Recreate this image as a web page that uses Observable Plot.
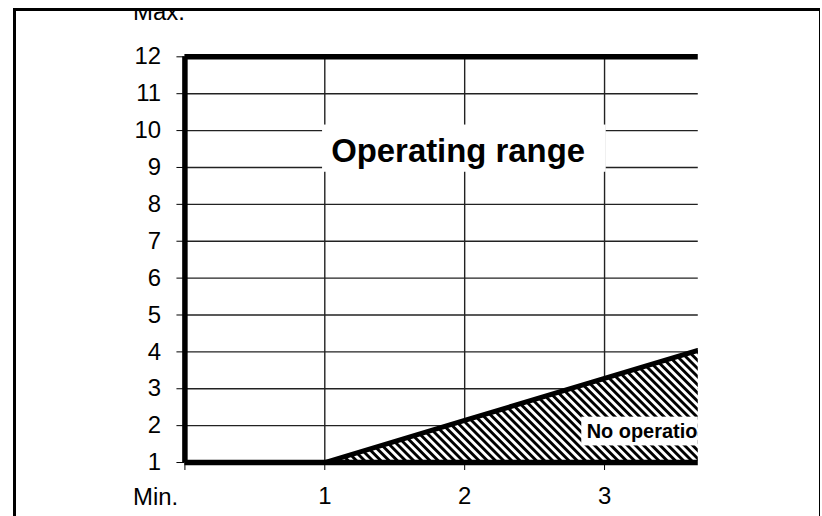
<!DOCTYPE html>
<html><head><meta charset="utf-8">
<script src="https://cdn.jsdelivr.net/npm/d3@7"></script>
<script src="https://cdn.jsdelivr.net/npm/@observablehq/plot@0.6"></script>
<style>
html,body{margin:0;padding:0;background:#fff;}
#frame{position:absolute;left:13px;top:8px;width:807px;height:530px;box-sizing:border-box;border-left:3.4px solid #000;border-top:3.4px solid #000;border-right:1px solid #000;overflow:hidden;}
#chart{position:absolute;left:-16.4px;top:-11.4px;}
</style></head><body>
<div id="frame"><div id="chart"></div></div>
<script>
// ---- data ----
const yTicks = [1,2,3,4,5,6,7,8,9,10,11,12];
const yGrid = [2,3,4,5,6,7,8,9,10,11];
const xTicks = [0,1,2,3];
const xTickLabels = ["", "1", "2", "3"];
const xGrid = [1,2,3];
const xDomain = [0, 3.67];
const yDomain = [1, 12];
const boundaryX = [1, 2, 3, 4];
const boundaryY = [1, 2.14, 3.28, 4.42];
const boundary = boundaryX.map((x, i) => ({x, y: boundaryY[i]}));
const maxLabel = [{text: "Max.", x: 0, y: 12}];
const minLabel = [{text: "Min.", x: 0, y: 1}];
const operatingLabel = [{text: "Operating range", x: 1.953, y: 9.43}];
const noOpLabel = [{text: "No operation", x: 2.872, y: 1.83}];
const labelBoxes = [
  {x1: 0.984, x2: 3.012, y1: 8.87, y2: 10.15},
  {x1: 2.837, x2: 3.95, y1: 1.45, y2: 2.23}
];

const font = "'Liberation Sans', Arial, sans-serif";

const svg = Plot.plot({
  width: 822,
  height: 516,
  marginLeft: 185,
  marginRight: 122,
  marginTop: 56.5,
  marginBottom: 52.5,
  style: {fontFamily: font, fontSize: "24px", background: "white", color: "black", overflow: "visible"},
  x: {domain: xDomain, ticks: xTicks, tickFormat: (d) => xTickLabels[xTicks.indexOf(d)], tickSize: 8, tickPadding: 17, label: null},
  y: {domain: yDomain, ticks: yTicks, tickSize: 8, tickPadding: 16, label: null},
  marks: [
    Plot.ruleY(yGrid, {stroke: "#222", strokeWidth: 1.4}),
    Plot.ruleX(xGrid, {y1: 1, y2: 12, stroke: "#222", strokeWidth: 1.4}),
    Plot.areaY(boundary, {x: "x", y1: 1, y2: "y", fill: "url(#hatch)", clip: true}),
    Plot.line(boundary, {x: "x", y: "y", stroke: "black", strokeWidth: 5, clip: true}),
    Plot.rect(labelBoxes, {x1: "x1", x2: "x2", y1: "y1", y2: "y2", fill: "white", clip: true}),
    Plot.text(operatingLabel, {x: "x", y: "y", text: "text", fontSize: 33, fontWeight: "bold", fill: "black"}),
    Plot.text(noOpLabel, {x: "x", y: "y", text: "text", fontSize: 20, fontWeight: "bold", textAnchor: "start", fill: "black", clip: true}),
    Plot.ruleY([1, 12], {stroke: "black", strokeWidth: 5.5}),
    Plot.ruleX([0], {y1: 1, y2: 12, stroke: "black", strokeWidth: 5.5}),
    Plot.text(maxLabel, {x: "x", y: "y", text: "text", fontSize: 24, textAnchor: "start", dx: -52, dy: -45, fill: "black"}),
    Plot.text(minLabel, {x: "x", y: "y", text: "text", fontSize: 24, textAnchor: "start", dx: -52, dy: 35, fill: "black"})
  ]
});

const defs = d3.select(svg).insert("defs", ":first-child");
const pat = defs.append("pattern")
  .attr("id", "hatch")
  .attr("patternUnits", "userSpaceOnUse")
  .attr("width", 5.8)
  .attr("height", 5.8)
  .attr("patternTransform", "rotate(-45)");
pat.append("rect").attr("x", 0).attr("y", 0).attr("width", 5.8).attr("height", 5.8).attr("fill", "white");
pat.append("rect").attr("x", 0).attr("y", 0).attr("width", 2.9).attr("height", 5.8).attr("fill", "black");

document.getElementById("chart").appendChild(svg);
</script>
</body></html>
